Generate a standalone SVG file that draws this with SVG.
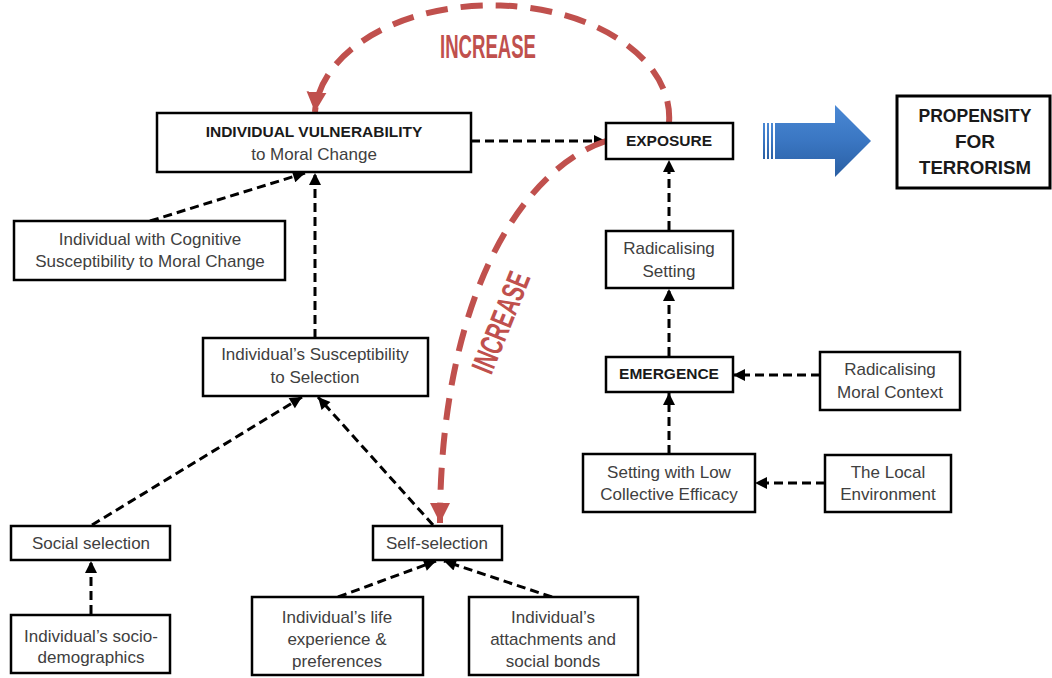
<svg xmlns="http://www.w3.org/2000/svg" width="1052" height="678" viewBox="0 0 1052 678">
<defs>
<style>
.box{fill:#fff;stroke:#000;stroke-width:2.5}
.t{font-family:"Liberation Sans",Arial,sans-serif;font-size:17px;fill:#404040;text-anchor:middle}
.b{font-family:"Liberation Sans",Arial,sans-serif;font-size:15.5px;font-weight:bold;fill:#1a1a1a;text-anchor:middle}
.c{fill:none;stroke:#000;stroke-width:3;stroke-dasharray:9 5;marker-end:url(#ah)}
.r{fill:none;stroke:#c0504d;stroke-width:6;stroke-dasharray:22 13;marker-end:url(#rh)}
.rt{font-family:"Liberation Sans",Arial,sans-serif;font-weight:bold;fill:#c0504d;text-anchor:middle}
</style>
<marker id="ah" viewBox="0 0 10 10" refX="10" refY="5" markerWidth="13" markerHeight="12" markerUnits="userSpaceOnUse" orient="auto"><path d="M0,0 L10,5 L0,10 z" fill="#000"/></marker>
<marker id="rh" viewBox="0 0 10 10" refX="10" refY="5" markerWidth="20" markerHeight="28" markerUnits="userSpaceOnUse" orient="auto"><path d="M0,0 L10,5 L0,10 z" fill="#c0504d"/></marker>
<linearGradient id="blue" x1="0" y1="0" x2="0" y2="1">
<stop offset="0" stop-color="#4a88d4"/>
<stop offset="0.5" stop-color="#3a76c2"/>
<stop offset="1" stop-color="#2a5fa3"/>
</linearGradient>
</defs>
<rect width="1052" height="678" fill="#fff"/>

<g id="connectors">
<path class="c" d="M471,141 L606,141"/>
<path class="c" d="M150,221 L305,173"/>
<path class="c" d="M315,338 L315,173"/>
<path class="c" d="M92,525 L302,397"/>
<path class="c" d="M433,525 L318,397"/>
<path class="c" d="M91,614 L91,561"/>
<path class="c" d="M338,597 L436,561"/>
<path class="c" d="M552,597 L444,561"/>
<path class="c" d="M669,230 L669,160"/>
<path class="c" d="M669,356 L669,289"/>
<path class="c" d="M669,454 L669,393"/>
<path class="c" d="M820,375 L733,375"/>
<path class="c" d="M825,483 L755,483"/>
<path class="r" d="M669,123 A177,112 0 0 0 315,112"/>
<path class="r" d="M606,141 C520,170 440,300 440,523"/>
<text class="rt" x="488" y="58" font-size="34" textLength="96" lengthAdjust="spacingAndGlyphs">INCREASE</text>
<text class="rt" transform="translate(500,322) rotate(-68)" x="0" y="12" font-size="32" textLength="106" lengthAdjust="spacingAndGlyphs">INCREASE</text>
<g id="big-arrow">
<rect x="763" y="123" width="2" height="36" fill="url(#blue)"/>
<rect x="767" y="123" width="2" height="36" fill="url(#blue)"/>
<rect x="771" y="123" width="2" height="36" fill="url(#blue)"/>
<path d="M775,123 L835,123 L835,105 L871,141 L835,177 L835,159 L775,159 Z" fill="url(#blue)"/>
</g>
</g>

<g id="n-vulnerability">
<rect class="box" x="157" y="113" width="314" height="59"/>
<text class="b" x="314" y="137">INDIVIDUAL VULNERABILITY</text>
<text class="t" x="314" y="160">to Moral Change</text>
</g>
<g id="n-exposure">
<rect class="box" x="606" y="123" width="127" height="36"/>
<text class="b" x="669" y="146">EXPOSURE</text>
</g>
<g id="n-propensity">
<rect class="box" x="897" y="96" width="153" height="92" style="stroke-width:3"/>
<text class="b" x="975" y="122" style="font-size:19px" textLength="113" lengthAdjust="spacingAndGlyphs">PROPENSITY</text>
<text class="b" x="975" y="148" style="font-size:19px">FOR</text>
<text class="b" x="975" y="174" style="font-size:19px" textLength="112" lengthAdjust="spacingAndGlyphs">TERRORISM</text>
</g>
<g id="n-cognitive">
<rect class="box" x="14" y="221" width="271" height="59"/>
<text class="t" x="150" y="245">Individual with Cognitive</text>
<text class="t" x="150" y="267">Susceptibility to  Moral Change</text>
</g>
<g id="n-radicalising-setting">
<rect class="box" x="606" y="231" width="127" height="57"/>
<text class="t" x="669" y="254">Radicalising</text>
<text class="t" x="669" y="277">Setting</text>
</g>
<g id="n-susceptibility">
<rect class="box" x="203" y="338" width="225" height="58"/>
<text class="t" x="315" y="360">Individual’s Susceptibility</text>
<text class="t" x="315" y="383">to Selection</text>
</g>
<g id="n-emergence">
<rect class="box" x="606" y="357" width="127" height="35"/>
<text class="b" x="669" y="379">EMERGENCE</text>
</g>
<g id="n-moral-context">
<rect class="box" x="820" y="352" width="140" height="58"/>
<text class="t" x="890" y="375">Radicalising</text>
<text class="t" x="890" y="398">Moral Context</text>
</g>
<g id="n-low-efficacy">
<rect class="box" x="583" y="454" width="172" height="58"/>
<text class="t" x="669" y="478">Setting with Low</text>
<text class="t" x="669" y="500">Collective Efficacy</text>
</g>
<g id="n-local-env">
<rect class="box" x="825" y="455" width="126" height="57"/>
<text class="t" x="888" y="478">The Local</text>
<text class="t" x="888" y="500">Environment</text>
</g>
<g id="n-social-selection">
<rect class="box" x="11" y="526" width="159" height="34"/>
<text class="t" x="91" y="549">Social selection</text>
</g>
<g id="n-self-selection">
<rect class="box" x="373" y="526" width="129" height="34"/>
<text class="t" x="437" y="549">Self-selection</text>
</g>
<g id="n-socio-demographics">
<rect class="box" x="11" y="615" width="159" height="58"/>
<text class="t" x="91" y="642">Individual’s socio-</text>
<text class="t" x="91" y="663">demographics</text>
</g>
<g id="n-life-experience">
<rect class="box" x="252" y="597" width="171" height="78"/>
<text class="t" x="337" y="623">Individual’s life</text>
<text class="t" x="337" y="645">experience &amp;</text>
<text class="t" x="337" y="667">preferences</text>
</g>
<g id="n-attachments">
<rect class="box" x="469" y="597" width="169" height="78"/>
<text class="t" x="553" y="623">Individual’s</text>
<text class="t" x="553" y="645">attachments and</text>
<text class="t" x="553" y="667">social bonds</text>
</g>
</svg>
